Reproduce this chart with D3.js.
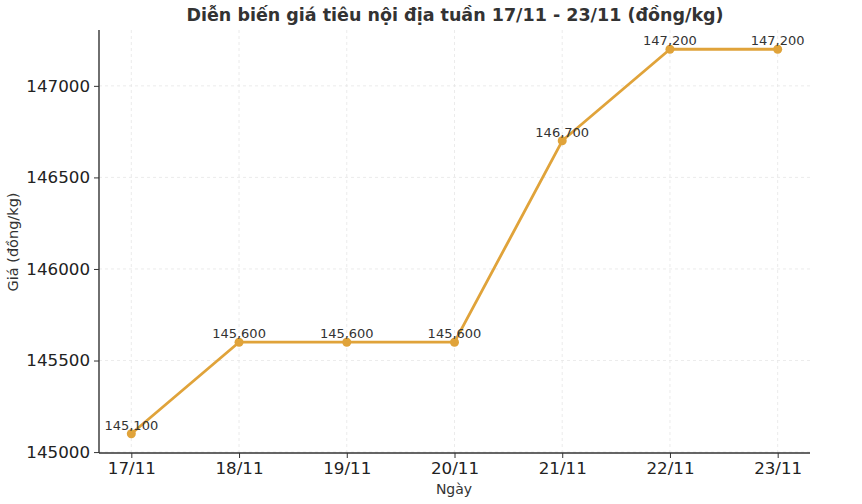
<!DOCTYPE html>
<html><head><meta charset="utf-8">
<script src="https://cdn.jsdelivr.net/npm/d3@7"></script>
<style>body{margin:0;background:#fff}svg{display:block}</style>
</head><body>
<svg id="c" width="862" height="504"></svg>
<script>
const categories = ["17/11","18/11","19/11","20/11","21/11","22/11","23/11"];
const prices = [145100,145600,145600,145600,146700,147200,147200];
const yTicks = [145000,145500,146000,146500,147000];
const title = "Diễn biến giá tiêu nội địa tuần 17/11 - 23/11 (đồng/kg)";
const xLabel = "Ngày";
const yLabel = "Giá (đồng/kg)";

const svg = d3.select("#c");
const font = "DejaVu Sans, sans-serif";
const L = 99, R = 810, T = 30, B = 453;
const color = "#E0A33A";

const x = d3.scaleLinear().domain([-0.3, categories.length - 1 + 0.3]).range([L, R]);
const ymin = d3.min(prices), ymax = d3.max(prices), pad = (ymax - ymin) * 0.05;
const y = d3.scaleLinear().domain([ymin - pad, ymax + pad]).range([B, T]);

// grid
const g = svg.append("g");
g.selectAll(".gx").data(categories).enter().append("line")
  .attr("x1", (d,i)=>x(i)).attr("x2", (d,i)=>x(i)).attr("y1", T).attr("y2", B)
  .attr("stroke", "#e6e6e6").attr("stroke-width", 0.8).attr("stroke-dasharray", "3,3");
g.selectAll(".gy").data(yTicks).enter().append("line")
  .attr("x1", L).attr("x2", R).attr("y1", d=>y(d)).attr("y2", d=>y(d))
  .attr("stroke", "#e6e6e6").attr("stroke-width", 0.8).attr("stroke-dasharray", "3,3");

// axes
const xAxis = d3.axisBottom(x).tickValues(d3.range(categories.length)).tickFormat(i=>categories[i]).tickSize(5).tickPadding(4);
const yAxis = d3.axisLeft(y).tickValues(yTicks).tickFormat(d3.format("d")).tickSize(5).tickPadding(4);
const xa = svg.append("g").attr("transform", `translate(0,${B})`).call(xAxis);
const ya = svg.append("g").attr("transform", `translate(${L},0)`).call(yAxis);
[xa, ya].forEach(a => {
  a.select(".domain").remove();
  a.selectAll(".tick line").attr("stroke", "#333").attr("stroke-width", 1);
  a.selectAll(".tick text").attr("fill", "#222").style("font-family", font).style("font-size", "16.7px");
});
svg.append("line").attr("x1", L).attr("x2", L).attr("y1", T).attr("y2", B).attr("stroke", "#333").attr("stroke-width", 1.4);
svg.append("line").attr("x1", L).attr("x2", R).attr("y1", B).attr("y2", B).attr("stroke", "#333").attr("stroke-width", 1.4);

// line
const line = d3.line().x((d,i)=>x(i)).y(d=>y(d));
svg.append("path").datum(prices).attr("d", line).attr("fill", "none")
  .attr("stroke", color).attr("stroke-width", 2.8).attr("stroke-linejoin", "round");
svg.selectAll(".pt").data(prices).enter().append("circle")
  .attr("cx", (d,i)=>x(i)).attr("cy", d=>y(d)).attr("r", 4.5).attr("fill", color);
svg.selectAll(".lbl").data(prices).enter().append("text")
  .attr("x", (d,i)=>x(i)).attr("y", d=>y(d) - 4)
  .attr("text-anchor", "middle").attr("fill", "#333")
  .style("font-family", font).style("font-size", "13px")
  .text(d=>d3.format(",")(d));

// titles
svg.append("text").attr("x", 455).attr("y", 21).attr("text-anchor", "middle")
  .attr("fill", "#333").style("font-family", font).style("font-size", "17.5px").style("font-weight", "bold").text(title);
svg.append("text").attr("x", 454).attr("y", 494).attr("text-anchor", "middle")
  .attr("fill", "#333").style("font-family", font).style("font-size", "14px").text(xLabel);
svg.append("text").attr("transform", "translate(18,242) rotate(-90)").attr("text-anchor", "middle")
  .attr("fill", "#333").style("font-family", font).style("font-size", "14.5px").text(yLabel);
</script>
</body></html>
